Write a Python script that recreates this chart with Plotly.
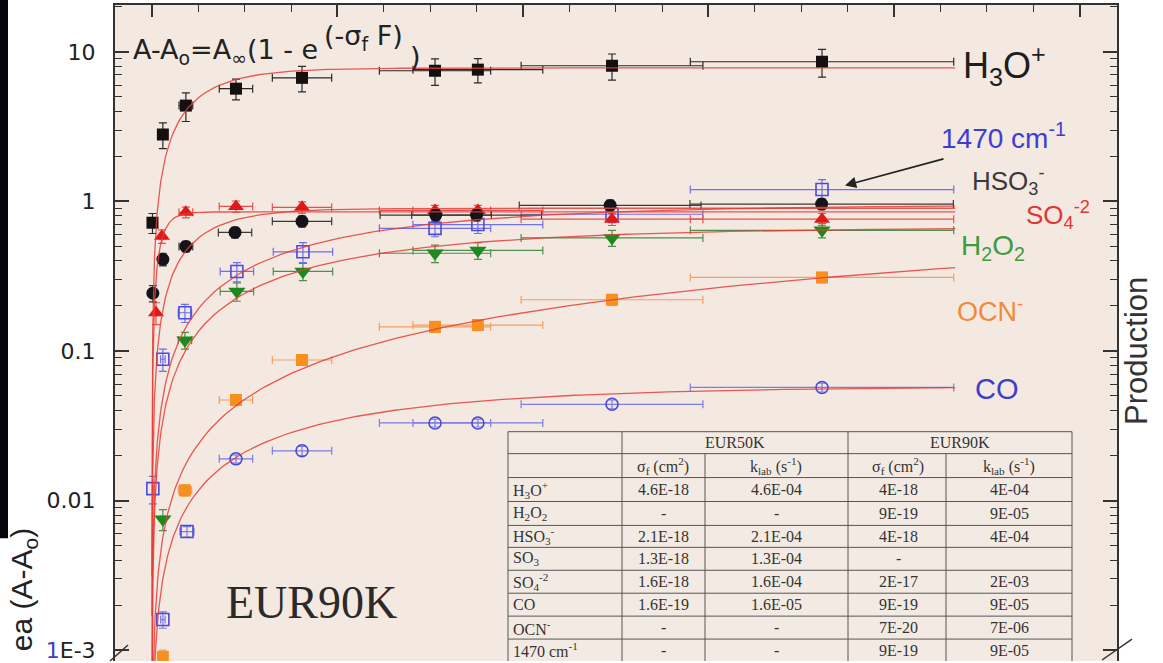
import numpy as np
import plotly.graph_objects as go

# ---------------- data ----------------
# Fluence in units of 1e18 ions cm^-2 (one major top tick = 1 unit)
F_H3O = [0.003, 0.059, 0.183, 0.453, 0.809, 1.526, 1.757, 2.480, 3.612]
A_H3O = [0.72, 2.8, 4.37, 5.67, 6.7, 7.47, 7.6, 8.07, 8.58]
eA_H3O = [0.11, 0.55, 0.95, 0.9, 1.3, 1.5, 1.4, 1.6, 1.8]
eF_H3O = [0.002, 0.012, 0.037, 0.09, 0.16, 0.30, 0.35, 0.49, 0.71]

F_HSO3 = [0.005, 0.059, 0.183, 0.448, 0.809, 1.530, 1.750, 2.470, 3.610]
A_HSO3 = [0.243, 0.41, 0.50, 0.62, 0.736, 0.81, 0.81, 0.94, 0.96]
eA_HSO3 = [0.03, 0.04, 0.04, 0.05, 0.06, 0.07, 0.07, 0.08, 0.08]
eF_HSO3 = [0.002, 0.012, 0.037, 0.09, 0.16, 0.30, 0.35, 0.49, 0.71]

F_SO4 = [0.022, 0.054, 0.183, 0.453, 0.809, 1.526, 1.757, 2.480, 3.612]
A_SO4 = [0.18, 0.584, 0.845, 0.926, 0.912, 0.87, 0.87, 0.76, 0.76]
eA_SO4 = [0.03, 0.06, 0.07, 0.08, 0.08, 0.07, 0.07, 0.07, 0.07]
eF_SO4 = [0.004, 0.011, 0.037, 0.09, 0.16, 0.30, 0.35, 0.49, 0.71]

F_H2O2 = [0.059, 0.178, 0.458, 0.814, 1.526, 1.757, 2.480, 3.612]
A_H2O2 = [0.0075, 0.118, 0.25, 0.34, 0.45, 0.47, 0.57, 0.64]
eA_H2O2 = [0.0012, 0.015, 0.035, 0.045, 0.06, 0.06, 0.07, 0.07]
eF_H2O2 = [0.012, 0.036, 0.09, 0.16, 0.30, 0.35, 0.49, 0.71]

F_1470 = [0.005, 0.059, 0.178, 0.458, 0.814, 1.526, 1.757, 2.480, 3.612]
A_1470 = [0.012, 0.088, 0.18, 0.34, 0.46, 0.66, 0.70, 0.82, 1.2]
eA_1470 = [0.0025, 0.015, 0.025, 0.05, 0.07, 0.08, 0.09, 0.10, 0.2]
eF_1470 = [0.002, 0.012, 0.036, 0.09, 0.16, 0.30, 0.35, 0.49, 0.71]

F_CO = [0.059, 0.189, 0.453, 0.809, 1.526, 1.757, 2.480, 3.612]
A_CO = [0.0016, 0.0062, 0.019, 0.0215, 0.033, 0.033, 0.044, 0.057]
eA_CO = [0.0002, 0.0005, 0.0012, 0.0015, 0.002, 0.002, 0.003, 0.004]
eF_CO = [0.012, 0.038, 0.09, 0.16, 0.30, 0.35, 0.49, 0.71]

F_OCN = [0.059, 0.178, 0.453, 0.809, 1.526, 1.757, 2.480, 3.612]
A_OCN = [0.0009, 0.0117, 0.047, 0.087, 0.145, 0.149, 0.22, 0.31]
eA_OCN = [0.0001, 0.001, 0.004, 0.007, 0.012, 0.012, 0.018, 0.025]
eF_OCN = [0.012, 0.036, 0.09, 0.16, 0.30, 0.35, 0.49, 0.71]

# Fit parameters: A - A0 = A_inf (1 - exp(-sigma F)), sigma from the EUR90K table
fit_species = ["H3O+", "H2O2", "HSO3-", "SO4-2", "CO", "OCN-", "1470"]
fit_sigma = [4e-18, 9e-19, 4e-18, 2e-17, 9e-19, 7e-20, 9e-19]
fit_Ainf = [7.8, 0.67, 0.9, 0.85, 0.058, 1.38, 0.95]
FLUENCE_UNIT = 1e18

# Table contents
table_rows = ["H<sub>3</sub>O<sup>+</sup>", "H<sub>2</sub>O<sub>2</sub>", "HSO<sub>3</sub><sup>-</sup>",
              "SO<sub>3</sub>", "SO<sub>4</sub><sup>-2</sup>", "CO", "OCN<sup>-</sup>", "1470 cm<sup>-1</sup>"]
sig_50K = ["4.6E-18", "-", "2.1E-18", "1.3E-18", "1.6E-18", "1.6E-19", "-", "-"]
k_50K = ["4.6E-04", "-", "2.1E-04", "1.3E-04", "1.6E-04", "1.6E-05", "-", "-"]
sig_90K = ["4E-18", "9E-19", "4E-18", "-", "2E-17", "9E-19", "7E-20", "9E-19"]
k_90K = ["4E-04", "9E-05", "4E-04", "", "2E-03", "9E-05", "7E-06", "9E-05"]

y_tickvals = [0.001, 0.01, 0.1, 1, 10]
y_ticktext = ["<span style='color:#3b3bd0'>1</span>E-3", "0.01", "0.1", "1", "10"]

# ---------------- layout helpers ----------------
W, H = 1163, 663
ML, MR, MT, MB = 115, 46, 5, 0
PW, PH = W - ML - MR, H - MT - MB


def X(px):
    return (px - ML) / PW


def Y(py):
    return 1 - (py - MT) / PH


SANS = "Liberation Sans, Arial, sans-serif"
WIDE = "DejaVu Sans, Liberation Sans, sans-serif"
SERIF = "Liberation Serif, Times New Roman, serif"

fig = go.Figure()


def add_series(F, A, eF, eA, symbol, color, size, bar_color, line_color=None, lw=0):
    fig.add_trace(go.Scatter(
        x=F, y=A, mode="markers",
        marker=dict(symbol=symbol, color=color, size=size,
                    line=dict(color=line_color or color, width=lw)),
        error_x=dict(type="data", array=eF, color=bar_color, thickness=1.2, width=4),
        error_y=dict(type="data", array=eA, color=bar_color, thickness=1.2, width=4),
        showlegend=False, hoverinfo="skip"))


add_series(F_OCN, A_OCN, eF_OCN, eA_OCN, "square", "#f7901e", 12, "#f3a060")
add_series(F_CO, A_CO, eF_CO, eA_CO,
           ["square-open", "square-open"] + ["circle-open"] * 6, "#4a4ad8", 12, "#7c7ce6", lw=1.6)
add_series(F_H2O2, A_H2O2, eF_H2O2, eA_H2O2, "triangle-down", "#1c8a1c", 15, "#4d8f4d")
add_series(F_1470, A_1470, eF_1470, eA_1470, "square-open", "#4b4be0", 12, "#7070e8", lw=1.6)
add_series(F_SO4, A_SO4, eF_SO4, eA_SO4, "triangle-up", "#e01818", 14, "#e85050")
add_series(F_HSO3, A_HSO3, eF_HSO3, eA_HSO3, "circle", "#141418", 13, "#3a3a3a")
add_series(F_H3O, A_H3O, eF_H3O, eA_H3O, "square", "#141010", 12, "#2a2a2a")

# fit curves
Fgrid = np.concatenate([np.geomspace(1e-4, 0.2, 120), np.linspace(0.2, 4.33, 150)[1:]])
for sig, ainf in zip(fit_sigma, fit_Ainf):
    fig.add_trace(go.Scatter(
        x=Fgrid, y=ainf * (1 - np.exp(-sig * FLUENCE_UNIT * Fgrid)), mode="lines",
        line=dict(color="rgba(232,60,55,0.85)", width=1.3),
        showlegend=False, hoverinfo="skip"))

# ---------------- axes ----------------
minor_y = []
for d in range(-3, 2):
    for m in range(2, 10):
        minor_y.append(m * 10.0 ** d)
minor_y.append(20.0)

fig.update_xaxes(range=[-0.199, 5.202], side="top", showline=True, linecolor="#333",
                 linewidth=2, mirror=False, ticks="inside", ticklen=12, tickwidth=1.5,
                 tickcolor="#333", tickmode="array", tickvals=[0, 1, 2, 3, 4, 5],
                 showticklabels=False, showgrid=False, zeroline=False,
                 minor=dict(ticks="inside", ticklen=7, tickwidth=1.2, tickcolor="#333",
                            tickmode="linear", tick0=0, dtick=0.25, showgrid=False))
fig.update_yaxes(type="log", range=[-3.073, 1.313], showline=True, linecolor="#333",
                 linewidth=2, mirror="ticks", ticks="inside", ticklen=14, tickwidth=1.5,
                 tickcolor="#333", tickmode="array", tickvals=y_tickvals, ticktext=y_ticktext,
                 tickfont=dict(family=WIDE, size=22, color="#222"), ticklabelstandoff=13,
                 ticklabeloverflow="allow",
                 showgrid=False, zeroline=False,
                 minor=dict(ticks="inside", ticklen=7, tickwidth=1.2, tickcolor="#333",
                            tickmode="array", tickvals=minor_y, showgrid=False))

# ---------------- shapes ----------------
shapes = []
# black strip at the far left
shapes.append(dict(type="rect", xref="paper", yref="paper", x0=X(0), x1=X(8), y0=Y(540), y1=Y(0),
                   fillcolor="#05050c", line=dict(width=0), layer="above"))
# axis break marks
shapes.append(dict(type="line", xref="paper", yref="paper", x0=X(110), y0=Y(663), x1=X(128), y1=Y(647),
                   line=dict(color="#333", width=1.5)))
shapes.append(dict(type="line", xref="paper", yref="paper", x0=X(1102), y0=Y(662), x1=X(1132), y1=Y(641),
                   line=dict(color="#333", width=1.5)))
# table background + grid
shapes.append(dict(type="rect", xref="paper", yref="paper", x0=X(508), x1=X(1072), y0=Y(663), y1=Y(433),
                   fillcolor="#f3ebe3", line=dict(width=0), layer="above"))
for yy in [433, 455, 479, 503, 527, 549, 572, 595, 618, 641]:
    shapes.append(dict(type="line", xref="paper", yref="paper", x0=X(508), x1=X(1072), y0=Y(yy), y1=Y(yy),
                       line=dict(color="#555", width=1), layer="above"))
for xx, ytop in [(508, 433), (622, 433), (705, 455), (848, 433), (946, 455), (1072, 433)]:
    shapes.append(dict(type="line", xref="paper", yref="paper", x0=X(xx), x1=X(xx), y0=Y(ytop), y1=Y(663),
                       line=dict(color="#555", width=1), layer="above"))

# ---------------- annotations ----------------
ann = []


def txt(text, px, py, size, color="#222", family=SANS, xanchor="center", yanchor="middle", angle=0):
    ann.append(dict(text=text, x=X(px), y=Y(py), xref="paper", yref="paper", showarrow=False,
                    xanchor=xanchor, yanchor=yanchor, textangle=angle,
                    font=dict(family=family, size=size, color=color)))


# formula
txt("A-A<sub>o</sub>=A<sub>∞</sub>(1 - e", 131, 52, 27, "#222", family=WIDE, xanchor="left")
txt("(-σ<sub>f</sub>&nbsp;F)", 322, 38, 27, "#222", family=WIDE, xanchor="left")
txt(")", 408, 57, 27, "#222", family=WIDE, xanchor="left")

# species labels
txt("H<sub>3</sub>O<sup>+</sup>", 1004, 66, 36, "#1e1e1e")
txt("1470 cm<sup>-1</sup>", 1003, 136, 28, "#3d3dd6")
txt("HSO<sub>3</sub><sup>-</sup>", 1008, 182, 26, "#3a3a3a")
txt("SO<sub>4</sub><sup>-2</sup>", 1058, 216, 26, "#e33535")
txt("H<sub>2</sub>O<sub>2</sub>", 993, 248, 28, "#3f9a3f")
txt("OCN<sup>-</sup>", 990, 311, 27, "#f08a3a")
txt("CO", 997, 390, 29, "#3d3dcf")

txt("EUR90K", 311, 604, 46, "#2a2a2a", family=SERIF)
txt("Production", 1137, 352, 31, "#333", angle=-90)
txt("ea (A-A<sub>o</sub>)", 23, 592, 30, "#222", angle=-90)

# arrow to the 1470 cm-1 point
ann.append(dict(x=X(845), y=Y(186), xref="paper", yref="paper", ax=100, ay=-27,
                axref="pixel", ayref="pixel", text="", showarrow=True,
                arrowhead=2, arrowsize=1.4, arrowwidth=1.6, arrowcolor="#222"))

# table text
TS = 16
TC = "#333"
txt("EUR50K", 735, 444, TS, TC, family=SERIF)
txt("EUR90K", 960, 444, TS, TC, family=SERIF)
for cx in [663, 898]:
    txt("σ<sub>f</sub> (cm<sup>2</sup>)", cx, 467, TS, TC, family=SERIF)
for cx in [776, 1009]:
    txt("k<sub>lab</sub> (s<sup>-1</sup>)", cx, 467, TS, TC, family=SERIF)
row_centers = [491, 515, 538, 560.5, 583.5, 606.5, 629.5, 652]
for i, rc in enumerate(row_centers):
    txt(table_rows[i], 511, rc, TS, TC, family=SERIF, xanchor="left")
    txt(sig_50K[i], 663, rc, TS, TC, family=SERIF)
    txt(k_50K[i], 776, rc, TS, TC, family=SERIF)
    txt(sig_90K[i], 898, rc, TS, TC, family=SERIF)
    if k_90K[i]:
        txt(k_90K[i], 1009, rc, TS, TC, family=SERIF)

fig.update_layout(width=W, height=H, margin=dict(l=ML, r=MR, t=MT, b=MB, pad=0),
                  paper_bgcolor="white", plot_bgcolor="#f3e9e1", showlegend=False,
                  shapes=shapes, annotations=ann)

fig.write_html("out.html", config={"displayModeBar": False},
               post_script="document.body.style.margin='0px';document.body.style.overflow='hidden';")
